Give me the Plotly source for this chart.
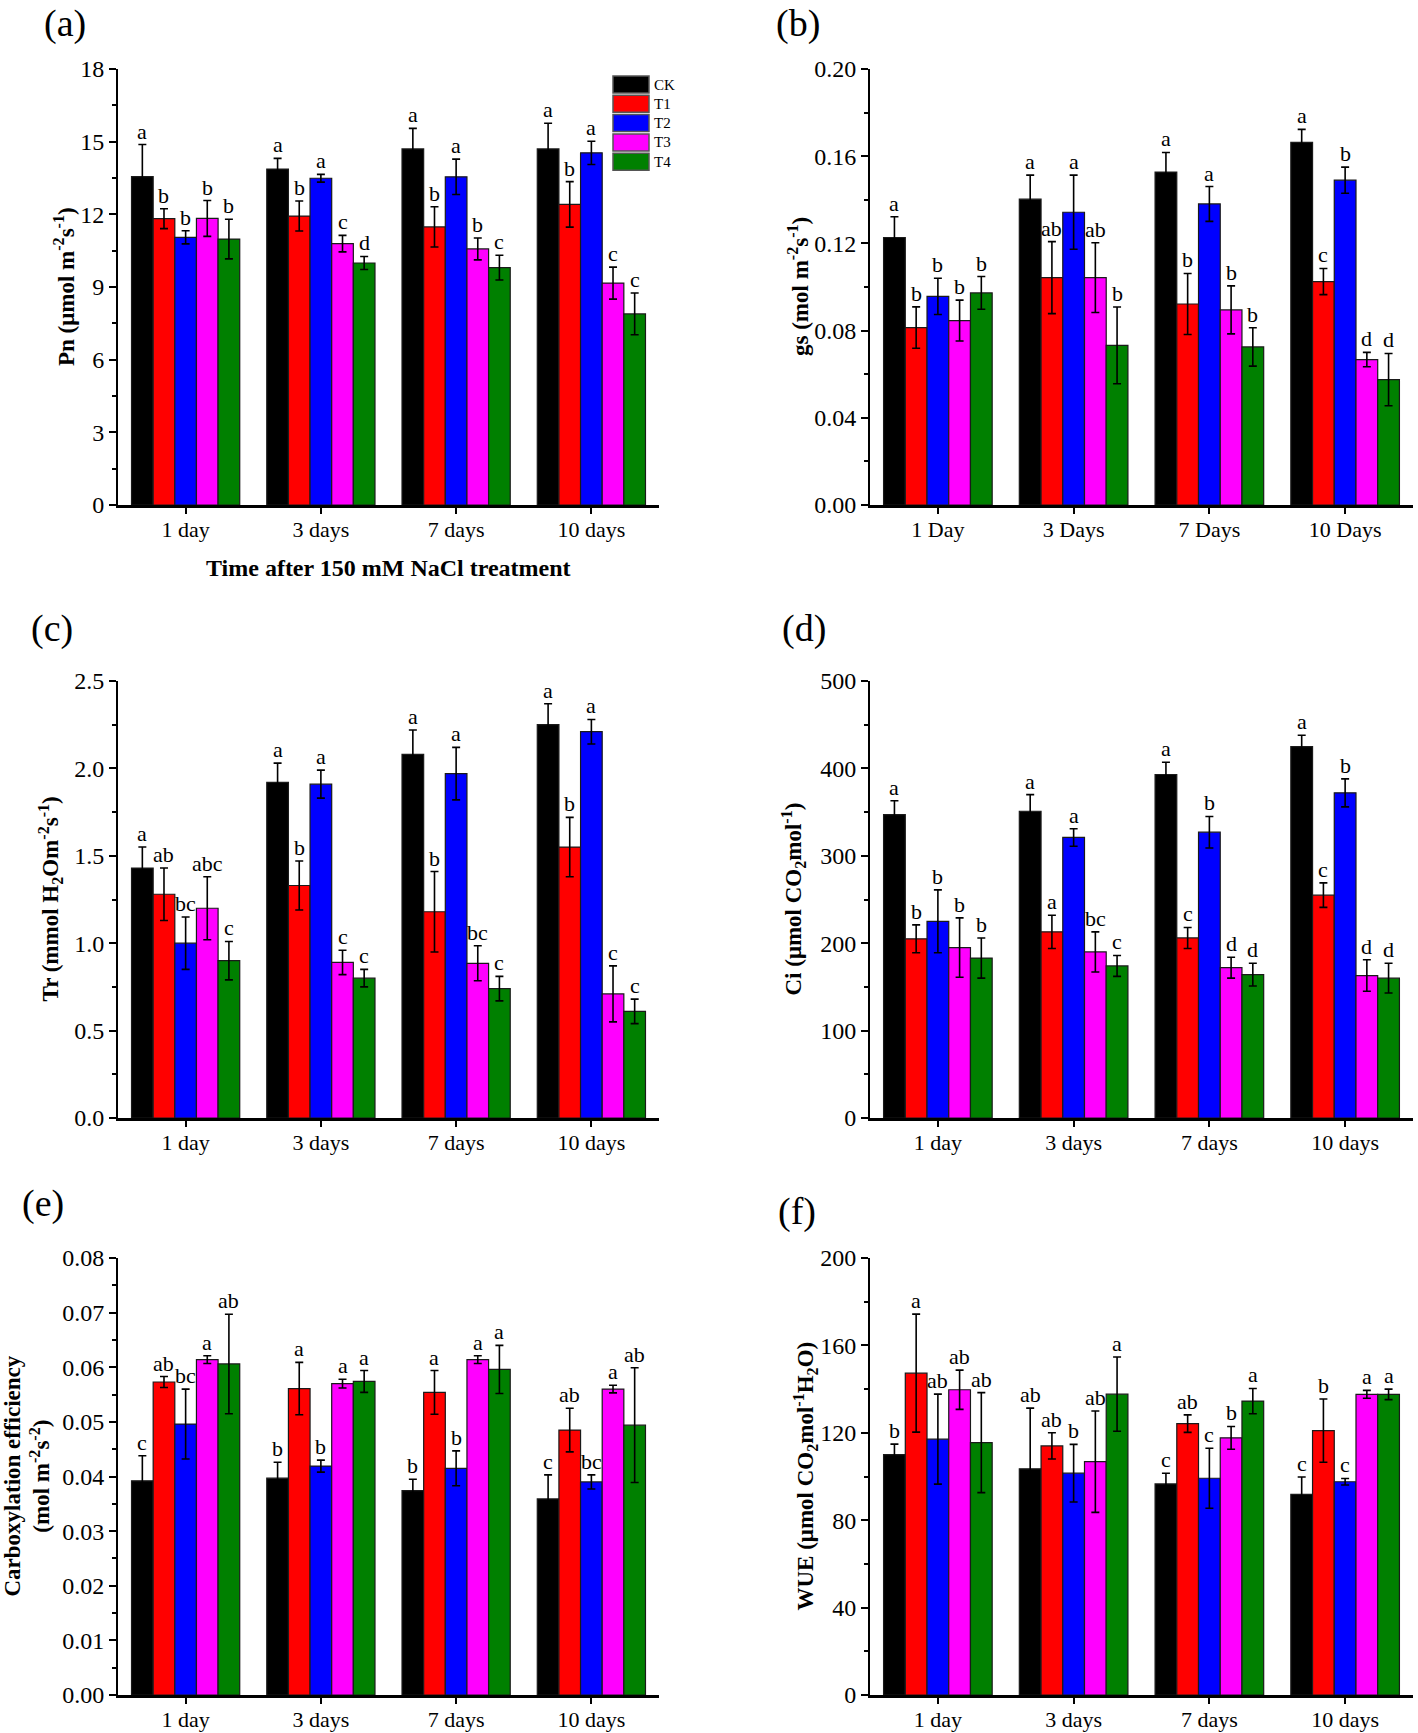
import plotly.graph_objects as go
from plotly.subplots import make_subplots

# ---------------- data ----------------
treatments = ["CK", "T1", "T2", "T3", "T4"]
days = ["1 day", "3 days", "7 days", "10 days"]
days_cap = ["1 Day", "3 Days", "7 Days", "10 Days"]

# (a) Pn  (rows: CK, T1, T2, T3, T4 ; cols: 1, 3, 7, 10 days)
pn_mean = [[13.56, 13.87, 14.70, 14.70],
           [11.82, 11.93, 11.48, 12.41],
           [11.05, 13.49, 13.55, 14.54],
           [11.83, 10.79, 10.57, 9.16],
           [10.98, 9.99, 9.80, 7.89]]
pn_err = [[1.32, 0.44, 0.85, 1.06],
          [0.41, 0.62, 0.83, 0.94],
          [0.27, 0.16, 0.73, 0.48],
          [0.74, 0.34, 0.45, 0.66],
          [0.82, 0.27, 0.51, 0.86]]
pn_sig = [["a", "a", "a", "a"],
          ["b", "b", "b", "b"],
          ["b", "a", "a", "a"],
          ["b", "c", "b", "c"],
          ["b", "d", "c", "c"]]

# (b) gs
gs_mean = [[0.1227, 0.1403, 0.1527, 0.1663],
           [0.0814, 0.1043, 0.0922, 0.1025],
           [0.0957, 0.1343, 0.1381, 0.1490],
           [0.0846, 0.1043, 0.0895, 0.0667],
           [0.0973, 0.0732, 0.0725, 0.0575]]
gs_err = [[0.0095, 0.0110, 0.0090, 0.0060],
          [0.0095, 0.0165, 0.0140, 0.0060],
          [0.0083, 0.0170, 0.0080, 0.0060],
          [0.0094, 0.0160, 0.0110, 0.0033],
          [0.0075, 0.0176, 0.0088, 0.0120]]
gs_sig = [["a", "a", "a", "a"],
          ["b", "ab", "b", "c"],
          ["b", "a", "a", "b"],
          ["b", "ab", "b", "d"],
          ["b", "b", "b", "d"]]

# (c) Tr
tr_mean = [[1.43, 1.92, 2.08, 2.25],
           [1.28, 1.33, 1.18, 1.55],
           [1.00, 1.91, 1.97, 2.21],
           [1.20, 0.89, 0.885, 0.71],
           [0.90, 0.80, 0.74, 0.61]]
tr_err = [[0.12, 0.11, 0.14, 0.12],
          [0.15, 0.14, 0.23, 0.17],
          [0.15, 0.08, 0.15, 0.07],
          [0.18, 0.07, 0.10, 0.16],
          [0.11, 0.05, 0.07, 0.07]]
tr_sig = [["a", "a", "a", "a"],
          ["ab", "b", "b", "b"],
          ["bc", "a", "a", "a"],
          ["abc", "c", "bc", "c"],
          ["c", "c", "c", "c"]]

# (d) Ci
ci_mean = [[347, 351, 393, 425],
           [205, 213, 206, 255],
           [225, 321, 327, 372],
           [195, 190, 172, 163],
           [183, 174, 164, 160]]
ci_err = [[16, 19, 14, 13],
          [16, 19, 12, 14],
          [36, 10, 18, 16],
          [34, 23, 12, 18],
          [23, 12, 13, 17]]
ci_sig = [["a", "a", "a", "a"],
          ["b", "a", "c", "c"],
          ["b", "a", "b", "b"],
          ["b", "bc", "d", "d"],
          ["b", "c", "d", "d"]]

# (e) Carboxylation efficiency
ce_mean = [[0.0392, 0.0397, 0.0374, 0.0359],
           [0.0573, 0.0561, 0.0554, 0.0485],
           [0.0496, 0.0419, 0.0415, 0.0390],
           [0.0614, 0.0570, 0.0614, 0.0560],
           [0.0606, 0.0574, 0.0596, 0.0494]]
ce_err = [[0.0046, 0.0029, 0.0021, 0.0044],
          [0.0010, 0.0048, 0.0040, 0.0040],
          [0.0064, 0.0011, 0.0032, 0.0013],
          [0.0007, 0.0008, 0.0007, 0.0007],
          [0.0091, 0.0020, 0.0044, 0.0105]]
ce_sig = [["c", "b", "b", "c"],
          ["ab", "a", "a", "ab"],
          ["bc", "b", "b", "bc"],
          ["a", "a", "a", "a"],
          ["ab", "a", "a", "ab"]]

# (f) WUE
wue_mean = [[110.0, 103.5, 96.6, 91.8],
            [147.3, 114.0, 124.2, 121.0],
            [117.1, 101.5, 99.2, 97.6],
            [139.7, 106.8, 117.7, 137.6],
            [115.5, 137.7, 134.5, 137.6]]
wue_err = [[4.8, 27.8, 4.9, 8.0],
           [27.0, 6.0, 4.0, 14.5],
           [20.6, 13.2, 13.7, 1.5],
           [9.0, 23.2, 5.2, 1.8],
           [22.9, 17.0, 5.8, 2.4]]
wue_sig = [["b", "ab", "c", "c"],
           ["a", "ab", "ab", "b"],
           ["ab", "b", "c", "c"],
           ["ab", "ab", "b", "a"],
           ["ab", "a", "a", "a"]]

# ---------------- styling ----------------
colors = ["#000000", "#ff0000", "#0000ff", "#ff00ff", "#008000"]
FONT = "Liberation Serif"
W, H = 1418, 1733

def px_x(v):
    return v / W

def px_y(v):
    return 1 - v / H

panels = [
    dict(mean=pn_mean, err=pn_err, sig=pn_sig, cats=days, ymax=18, dtick=3, minor=1.5, fmt="d",
         title="<b>Pn (μmol m<sup>-2</sup>s<sup>-1</sup>)</b>", tx=64, label="(a)", lx=65, ly=24),
    dict(mean=gs_mean, err=gs_err, sig=gs_sig, cats=days_cap, ymax=0.20, dtick=0.04, minor=0.02, fmt=".2f",
         title="<b>gs (mol m<sup>-2</sup>s<sup>-1</sup>)</b>", tx=798, label="(b)", lx=798, ly=24),
    dict(mean=tr_mean, err=tr_err, sig=tr_sig, cats=days, ymax=2.5, dtick=0.5, minor=0.25, fmt=".1f",
         title="<b>Tr (mmol H<sub>2</sub>Om<sup>-2</sup>s<sup>-1</sup>)</b>", tx=50, label="(c)", lx=52, ly=628),
    dict(mean=ci_mean, err=ci_err, sig=ci_sig, cats=days, ymax=500, dtick=100, minor=50, fmt="d",
         title="<b>Ci (μmol CO<sub>2</sub>mol<sup>-1</sup>)</b>", tx=793, label="(d)", lx=804, ly=628),
    dict(mean=ce_mean, err=ce_err, sig=ce_sig, cats=days, ymax=0.08, dtick=0.01, minor=0.005, fmt=".2f",
         title="<b>Carboxylation efficiency<br>(mol m<sup>-2</sup>s<sup>-2</sup>)</b>", tx=27, label="(e)", lx=43, ly=1203),
    dict(mean=wue_mean, err=wue_err, sig=wue_sig, cats=days, ymax=200, dtick=40, minor=20, fmt="d",
         title="<b>WUE (μmol CO<sub>2</sub>mol<sup>-1</sup>H<sub>2</sub>O)</b>", tx=805, label="(f)", lx=797, ly=1211),
]

# plot-area boxes in pixels (left, right, top, bottom)
x_left = (118, 659)
x_right = (870, 1413)
rows_px = [(69, 505), (681, 1118), (1258, 1695)]

fig = make_subplots(rows=3, cols=2)

n = len(treatments)
bar_w = 0.8 / n
annotations = []
xs = list(range(len(days)))

for k, p in enumerate(panels):
    r, c = k // 2 + 1, k % 2 + 1
    axn = "" if k == 0 else str(k + 1)
    for j, name in enumerate(treatments):
        fig.add_trace(go.Bar(
            x=xs, y=p["mean"][j], name=name,
            marker=dict(color=colors[j], line=dict(color="#1a1a1a", width=1.2)),
            error_y=dict(type="data", array=p["err"][j], visible=True,
                         color="black", thickness=1.6, width=4),
            showlegend=False,
        ), row=r, col=c)
        for i in xs:
            annotations.append(dict(
                x=i + (j - (n - 1) / 2) * bar_w,
                y=p["mean"][j][i] + p["err"][j][i],
                xref="x" + axn, yref="y" + axn,
                text=p["sig"][j][i], showarrow=False,
                yanchor="bottom", xanchor="center", yshift=-1,
                font=dict(family=FONT, size=22, color="black"),
            ))
    xd = x_left if c == 1 else x_right
    yd = rows_px[r - 1]
    fig.update_xaxes(
        domain=[px_x(xd[0]), px_x(xd[1])], range=[-0.5, 3.5],
        tickmode="array", tickvals=xs, ticktext=p["cats"],
        showline=True, linecolor="black", linewidth=2.5,
        ticks="outside", ticklen=6, tickwidth=2, tickcolor="black",
        ticklabelstandoff=-3,
        showgrid=False, zeroline=False,
        tickfont=dict(family=FONT, size=22, color="black"),
        row=r, col=c)
    fig.update_yaxes(
        domain=[px_y(yd[1]), px_y(yd[0])], range=[0, p["ymax"]],
        tickmode="linear", tick0=0, dtick=p["dtick"], tickformat=p["fmt"],
        showline=True, linecolor="black", linewidth=2,
        ticks="outside", ticklen=7, tickwidth=1.5, tickcolor="black",
        minor=dict(ticks="outside", ticklen=4, tickwidth=1.5, tickcolor="black", dtick=p["minor"], tick0=0),
        showgrid=False, zeroline=False,
        tickfont=dict(family=FONT, size=24, color="black"),
        row=r, col=c)
    # y-axis title
    annotations.append(dict(
        x=px_x(p["tx"]), y=px_y((yd[0] + yd[1]) / 2), xref="paper", yref="paper",
        text=p["title"], textangle=-90, showarrow=False,
        xanchor="center", yanchor="middle",
        font=dict(family=FONT, size=23, color="black"),
    ))
    # panel label
    annotations.append(dict(
        x=px_x(p["lx"]), y=px_y(p["ly"]), xref="paper", yref="paper",
        text=p["label"], showarrow=False, xanchor="center", yanchor="middle",
        font=dict(family=FONT, size=38, color="black"),
    ))

# x-axis title under panel (a)
annotations.append(dict(
    x=px_x(388), y=px_y(568), xref="paper", yref="paper",
    text="<b>Time after 150 mM NaCl treatment</b>", showarrow=False,
    xanchor="center", yanchor="middle",
    font=dict(family=FONT, size=24, color="black"),
))

# legend (inside panel a)
shapes = []
leg_x0, leg_x1 = 613, 649
leg_top, leg_h, leg_pitch = 76, 17, 19.3
for j, name in enumerate(treatments):
    y0 = leg_top + j * leg_pitch
    shapes.append(dict(
        type="rect", xref="paper", yref="paper",
        x0=px_x(leg_x0), x1=px_x(leg_x1), y0=px_y(y0 + leg_h), y1=px_y(y0),
        fillcolor=colors[j], line=dict(color="#555555", width=1.5),
    ))
    annotations.append(dict(
        x=px_x(leg_x1 + 3), y=px_y(y0 + leg_h / 2), xref="paper", yref="paper",
        text=name, showarrow=False, xanchor="left", yanchor="middle",
        font=dict(family=FONT, size=15, color="black"),
    ))

fig.update_layout(
    width=W, height=H,
    margin=dict(l=0, r=0, t=0, b=0, pad=0, autoexpand=False),
    paper_bgcolor="white", plot_bgcolor="white",
    barmode="group", bargap=0.2, bargroupgap=0,
    annotations=annotations, shapes=shapes,
    showlegend=False,
    font=dict(family=FONT, color="black"),
)

fig.write_html(
    "out.html",
    config={"displayModeBar": False},
    post_script="document.body.style.margin='0';document.body.style.padding='0';",
)
